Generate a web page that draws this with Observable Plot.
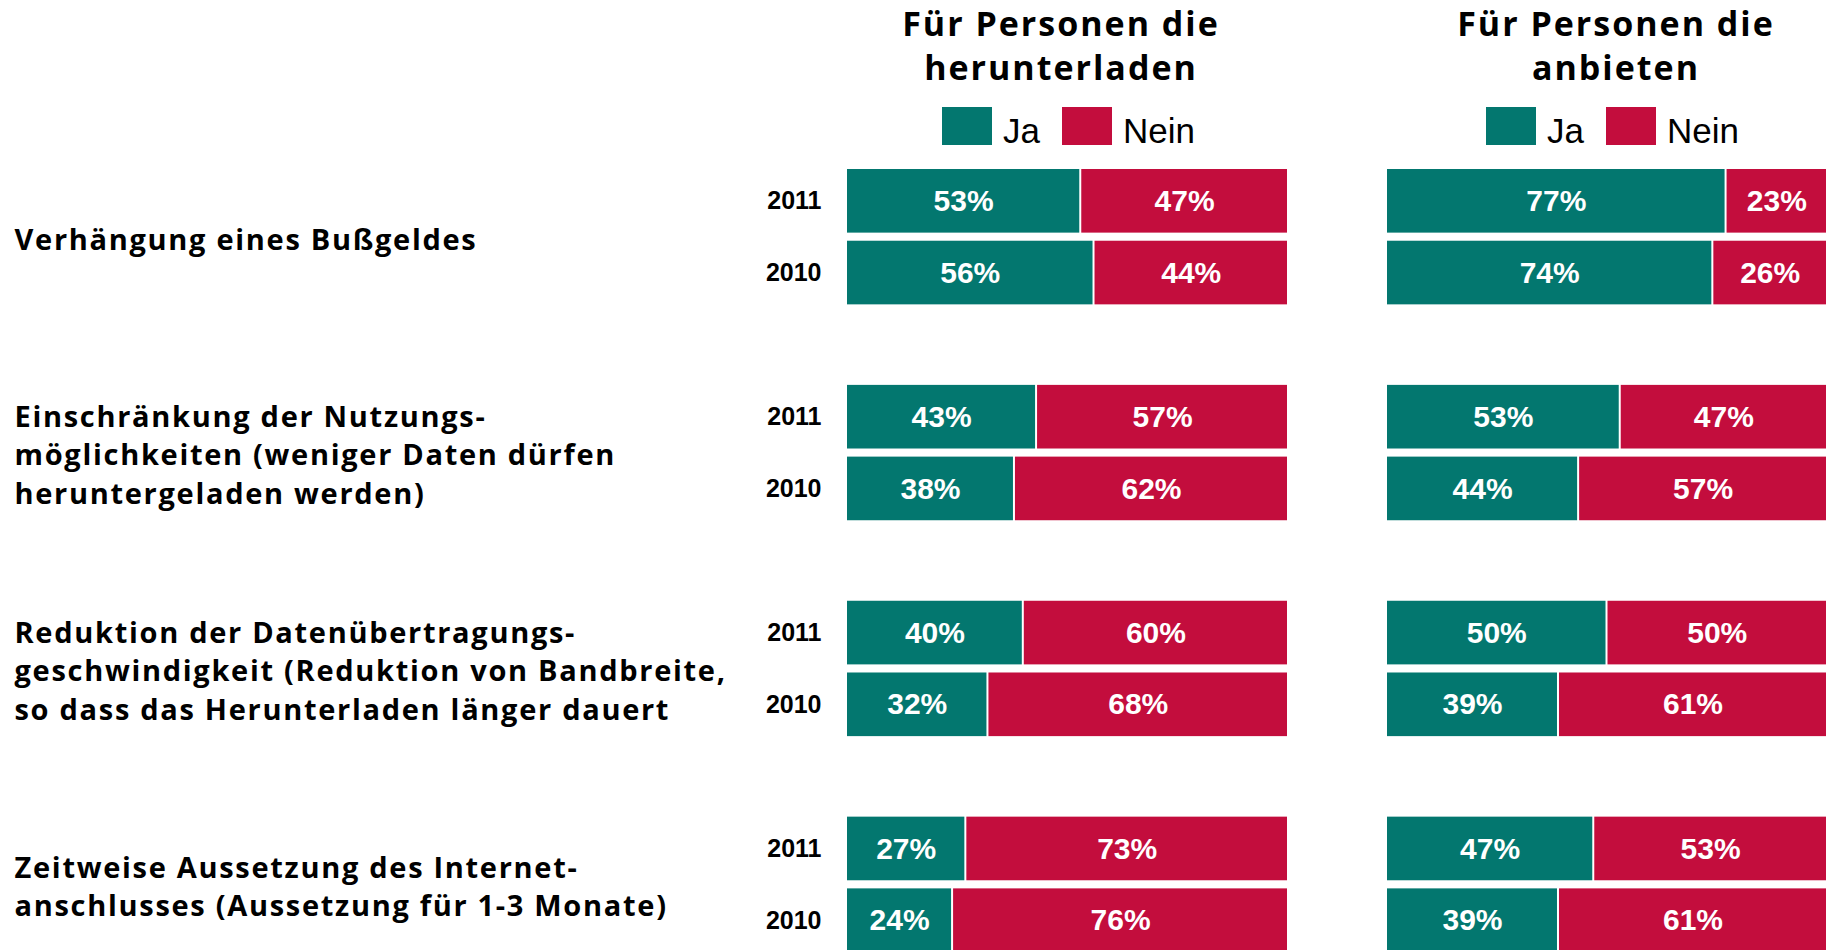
<!DOCTYPE html>
<html>
<head>
<meta charset="utf-8">
<script src="https://cdn.jsdelivr.net/npm/d3@7"></script>
<script src="https://cdn.jsdelivr.net/npm/@observablehq/plot@0.6"></script>
<style>
  body { margin: 0; background: #fff; }
  #wrap { position: relative; width: 1829px; height: 950px; overflow: hidden; background: #fff; }
  .title { position: absolute; top: 1px; width: 480px; text-align: center; font-family: "Open Sans", sans-serif;
           font-weight: 700; font-size: 34px; letter-spacing: 2px; line-height: 44px; color: #000; white-space: pre; }
  .legend { position: absolute; top: 107px; display: flex; align-items: flex-start;
            font-family: "Liberation Sans", Arial, sans-serif; font-size: 35px; color: #000; }
  .sw { width: 50px; height: 38px; margin-right: 11px; }
  .lab { line-height: 38px; position: relative; top: 5px; margin-right: 22px; }
  .plot { position: absolute; top: 150px; }
  g[aria-description="category"] text { letter-spacing: 1.7px; }
</style>
</head>
<body>
<div id="wrap"></div>
<script>
// ---- data ----
const categories = [
  "Verhängung eines Bußgeldes",
  "Einschränkung der Nutzungs-\nmöglichkeiten (weniger Daten dürfen\nheruntergeladen werden)",
  "Reduktion der Datenübertragungs-\ngeschwindigkeit (Reduktion von Bandbreite,\nso dass das Herunterladen länger dauert",
  "Zeitweise Aussetzung des Internet-\nanschlusses (Aussetzung für 1-3 Monate)"
];
const years = ["2011", "2010"];
const answers = ["Ja", "Nein"];
const colors = ["#03776f", "#c30d3d"];
const panelTitles = ["Für Personen die\nherunterladen", "Für Personen die\nanbieten"];

// Für Personen die herunterladen
const dlJa2011   = [53, 43, 40, 27];
const dlNein2011 = [47, 57, 60, 73];
const dlJa2010   = [56, 38, 32, 24];
const dlNein2010 = [44, 62, 68, 76];
// Für Personen die anbieten
const anJa2011   = [77, 53, 50, 47];
const anNein2011 = [23, 47, 50, 53];
const anJa2010   = [74, 44, 39, 39];
const anNein2010 = [26, 57, 61, 61];

function rows(ja11, nein11, ja10, nein10) {
  const out = [];
  categories.forEach((c, i) => {
    out.push({cat: c, year: "2011", answer: "Ja", value: ja11[i]});
    out.push({cat: c, year: "2011", answer: "Nein", value: nein11[i]});
    out.push({cat: c, year: "2010", answer: "Ja", value: ja10[i]});
    out.push({cat: c, year: "2010", answer: "Nein", value: nein10[i]});
  });
  return out;
}

function panel(data, width, marginLeft, labels) {
  const marks = [
    Plot.barX(data, Plot.stackX({
      x: "value", y: "year", fy: "cat", fill: "answer", offset: "normalize",
      insetLeft: 1, insetRight: 1
    })),
    Plot.text(data, Plot.stackX({
      x: "value", y: "year", fy: "cat", offset: "normalize",
      text: d => d.value + "%", fill: "white", fontSize: 30, fontWeight: "bold"
    }))
  ];
  if (labels) {
    marks.push(Plot.axisY({tickSize: 0, tickPadding: 25, fontSize: 25, fontWeight: "bold", fill: "#000", label: null}));
    marks.push(Plot.text(categories, {
      fy: d => d, text: d => d, frameAnchor: "left", textAnchor: "start",
      dx: 14 - marginLeft, fontFamily: "Open Sans", fontSize: 29, fontWeight: "bold",
      lineHeight: 1.33, fill: "#000", ariaDescription: "category"
    }));
  }
  return Plot.plot({
    width, height: 802,
    marginLeft, marginRight: 0, marginTop: 19, marginBottom: 0,
    style: {fontFamily: "'Liberation Sans', Arial, sans-serif", background: "transparent", overflow: "visible", color: "#000"},
    x: {axis: null, domain: [0, 1]},
    y: {axis: labels ? undefined : null, domain: years, paddingInner: 0.113, paddingOuter: 0, round: false, label: null},
    fy: {axis: null, domain: categories, paddingInner: 0.373, paddingOuter: 0, round: false, label: null},
    color: {domain: answers, range: colors},
    marks
  });
}

const wrap = document.getElementById("wrap");

// titles
[[panelTitles[0], 1061], [panelTitles[1], 1616]].forEach(([t, cx]) => {
  const d = document.createElement("div");
  d.className = "title";
  d.textContent = t;
  d.style.left = (cx - 240) + "px";
  wrap.appendChild(d);
});

// legends
[942, 1486].forEach(left => {
  const lg = document.createElement("div");
  lg.className = "legend";
  lg.style.left = left + "px";
  answers.forEach((a, i) => {
    const sw = document.createElement("div");
    sw.className = "sw";
    sw.style.background = colors[i];
    const lb = document.createElement("div");
    lb.className = "lab";
    lb.textContent = a;
    lg.appendChild(sw);
    lg.appendChild(lb);
  });
  wrap.appendChild(lg);
});

// panels
const p1 = panel(rows(dlJa2011, dlNein2011, dlJa2010, dlNein2010), 1288, 846, true);
p1.classList.add("plot");
p1.style.left = "0px";
wrap.appendChild(p1);

const p2 = panel(rows(anJa2011, anNein2011, anJa2010, anNein2010), 441, 0, false);
p2.classList.add("plot");
p2.style.left = "1386px";
wrap.appendChild(p2);
</script>
</body>
</html>
